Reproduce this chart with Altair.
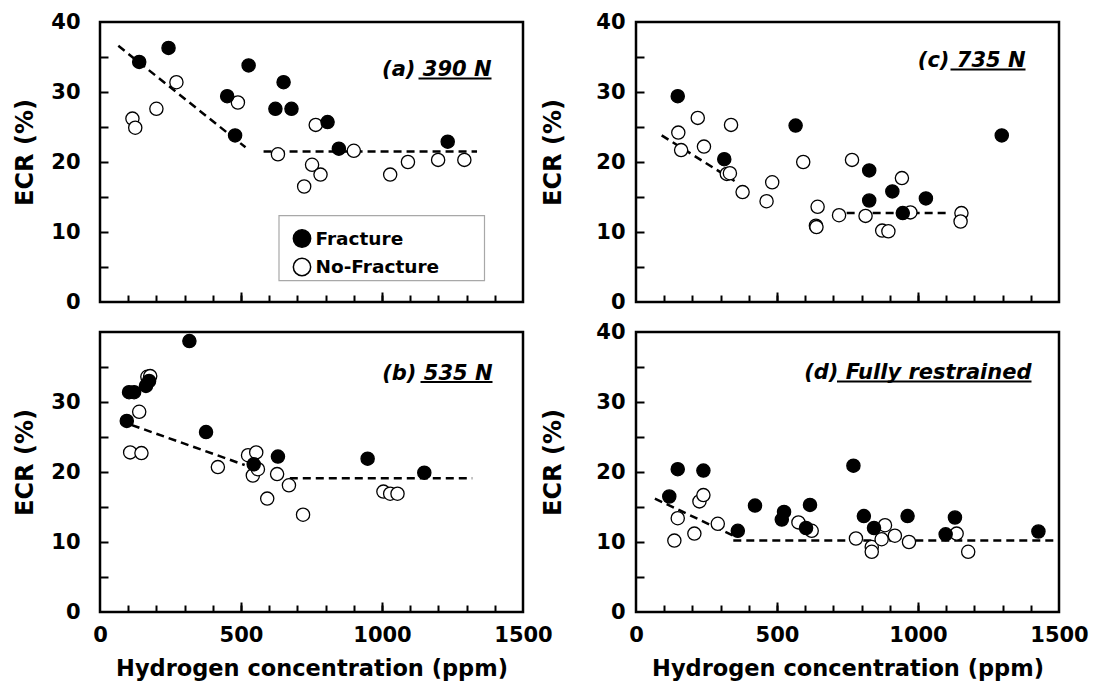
import altair as alt
import pandas as pd

FONT = "DejaVu Sans"
W, H = 423, 280

# ---------------- data ----------------
# (a) 390 N
a_frac_x = [139, 243, 451, 527, 479, 651, 622, 679, 807, 847, 1233]
a_frac_y = [34.3, 36.3, 29.4, 33.8, 23.8, 31.4, 27.6, 27.6, 25.7, 21.9, 22.9]
a_nof_x = [115, 125, 200, 271, 489, 631, 765, 752, 782, 724, 900, 1029, 1092, 1199, 1292]
a_nof_y = [26.2, 24.9, 27.6, 31.4, 28.5, 21.1, 25.3, 19.6, 18.2, 16.5, 21.6, 18.2, 20.0, 20.3, 20.3]
a_fit_x = [65, 516, 580, 1337]
a_fit_y = [36.6, 22.1, 21.5, 21.5]

# (b) 535 N
b_frac_x = [95, 103, 121, 163, 174, 317, 376, 545, 631, 949, 1150]
b_frac_y = [27.3, 31.4, 31.4, 32.3, 33.0, 38.7, 25.7, 21.1, 22.2, 21.9, 19.9]
b_nof_x = [107, 147, 139, 168, 178, 418, 525, 554, 542, 560, 628, 670, 593, 720, 1005, 1029, 1055]
b_nof_y = [22.8, 22.7, 28.6, 33.6, 33.7, 20.7, 22.4, 22.8, 19.5, 20.4, 19.7, 18.1, 16.2, 13.9, 17.2, 16.9, 16.9]
b_fit_x = [113, 513, 673, 1320]
b_fit_y = [26.7, 21.0, 19.1, 19.1]

# (c) 735 N
c_frac_x = [148, 566, 313, 827, 827, 909, 1028, 946, 1297]
c_frac_y = [29.4, 25.2, 20.4, 18.8, 14.5, 15.8, 14.8, 12.7, 23.8]
c_nof_x = [150, 160, 219, 241, 337, 322, 333, 378, 483, 463, 593, 644, 638, 640, 720, 766, 814, 943, 973, 873, 895, 1154, 1151]
c_nof_y = [24.2, 21.7, 26.3, 22.2, 25.3, 18.3, 18.4, 15.7, 17.1, 14.4, 20.0, 13.6, 10.9, 10.7, 12.4, 20.3, 12.3, 17.7, 12.8, 10.2, 10.1, 12.7, 11.5]
c_fit_x = [91, 357, 747, 1104]
c_fit_y = [23.8, 17.1, 12.7, 12.7]

# (d) Fully restrained
d_frac_x = [118, 148, 239, 361, 422, 525, 517, 603, 617, 771, 808, 844, 963, 1098, 1131, 1427]
d_frac_y = [16.5, 20.4, 20.2, 11.6, 15.2, 14.3, 13.2, 12.0, 15.3, 20.9, 13.7, 12.0, 13.7, 11.1, 13.5, 11.5]
d_nof_x = [136, 148, 225, 239, 207, 290, 576, 623, 780, 836, 836, 871, 883, 918, 968, 1137, 1178]
d_nof_y = [10.2, 13.4, 15.8, 16.7, 11.2, 12.6, 12.8, 11.6, 10.5, 9.3, 8.6, 10.4, 12.4, 10.9, 10.0, 11.2, 8.6]
d_fit_x = [67, 345, 345, 1486]
d_fit_y = [16.2, 10.9, 10.2, 10.2]

fit_seg = ["trend", "trend", "plateau", "plateau"]
types = ["Fracture", "No-Fracture"]

x_label_values = [0, 500, 1000, 1500]
x_minor_ticks = [100, 200, 300, 400, 500, 600, 700, 800, 900, 1000, 1100, 1200, 1300, 1400]
x_major_ticks = [500, 1000]
y_ticks = [5, 10, 15, 20, 25, 30, 35]

XSC = alt.Scale(domain=[0, 1500], nice=False, zero=False)
YSC = alt.Scale(domain=[0, 40], nice=False, zero=False)


def panel(fx, fy, nx, ny, fitx, fity, label, text_right, ul_left, base_y, ul_y,
          bottom_row, ylab_values, ylab_pad, ytitle_pad, with_legend):
    pts = pd.DataFrame({
        "x": nx + fx,
        "y": ny + fy,
        "type": ["No-Fracture"] * len(nx) + ["Fracture"] * len(fx),
    })
    fit = pd.DataFrame({"x": fitx, "y": fity, "seg": fit_seg})

    if bottom_row:
        xaxis = alt.Axis(orient="bottom", values=x_label_values, ticks=False, tickSize=0,
                         domain=False, grid=False, labelPadding=12, labelFontSize=21,
                         labelFlush=False, format="d",
                         title="Hydrogen concentration (ppm)", titleFontSize=22.5,
                         titlePadding=12)
    else:
        xaxis = None
    yaxis = alt.Axis(orient="left", values=ylab_values, ticks=False, tickSize=0,
                     domain=False, grid=False, labelPadding=ylab_pad, labelFontSize=21,
                     labelFlush=False, title="ECR (%)", titleFontSize=24,
                     titlePadding=ytitle_pad, titleY=130)

    if with_legend:
        leg = alt.Legend(orient="none", legendX=192.5, legendY=207, title=None,
                         labelFontSize=18.5, labelFont=FONT, labelFontWeight="bold",
                         symbolType="circle", symbolSize=300, symbolStrokeColor="black",
                         symbolStrokeWidth=1.5, rowPadding=3.5, labelOffset=4, padding=0)
    else:
        leg = None

    points = alt.Chart(pts).mark_point(
        shape="circle", filled=True, stroke="black", strokeWidth=1.3, size=175, opacity=1
    ).encode(
        x=alt.X("x:Q", scale=XSC, axis=xaxis),
        y=alt.Y("y:Q", scale=YSC, axis=yaxis),
        fill=alt.Fill("type:N", scale=alt.Scale(domain=types, range=["black", "white"]),
                      legend=leg),
    )

    lines = alt.Chart(fit).mark_line(
        color="black", strokeWidth=2.5, strokeDash=[8, 5]
    ).encode(
        x=alt.X("x:Q", scale=XSC,
                axis=alt.Axis(orient="top", offset=-H, values=x_minor_ticks, tickSize=7,
                              tickWidth=2, labels=False, domain=False, grid=False, title=None)),
        y=alt.Y("y:Q", scale=YSC,
                axis=alt.Axis(orient="right", offset=-W, values=y_ticks, tickSize=8,
                              tickWidth=2, labels=False, domain=False, grid=False, title=None)),
        detail="seg:N",
    )

    major = alt.Chart(fit).mark_point(opacity=0).encode(
        x=alt.X("x:Q", scale=XSC,
                axis=alt.Axis(orient="top", offset=-H, values=x_major_ticks, tickSize=10,
                              tickWidth=2, labels=False, domain=False, grid=False, title=None)),
        y=alt.Y("y:Q", scale=YSC, axis=None),
    )

    txt = alt.Chart(pd.DataFrame({"t": [label]})).mark_text(
        align="right", baseline="alphabetic", font=FONT, fontSize=21,
        fontWeight="bold", fontStyle="italic", color="black"
    ).encode(x=alt.value(text_right), y=alt.value(base_y), text="t:N")

    ul = alt.Chart(pd.DataFrame({"t": [0]})).mark_rule(color="black", strokeWidth=2).encode(
        x=alt.value(ul_left), x2=alt.value(text_right), y=alt.value(ul_y)
    )

    layers = []
    if with_legend:
        box = alt.Chart(pd.DataFrame({"t": [0]})).mark_rect(
            fill="white", stroke="#a8a8a8", strokeWidth=1.2
        ).encode(x=alt.value(179), x2=alt.value(384.5), y=alt.value(193.7), y2=alt.value(258.7))
        layers.append(box)
    layers += [major, lines, points, txt, ul]

    return alt.layer(*layers).resolve_axis(x="independent", y="independent").properties(
        width=W, height=H
    )


pa = panel(a_frac_x, a_frac_y, a_nof_x, a_nof_y, a_fit_x, a_fit_y, "(a) 390 N",
           391.5, 318.5, 54, 56.5, False, [0, 10, 20, 30, 40], 20, 13, True)
pc = panel(c_frac_x, c_frac_y, c_nof_x, c_nof_y, c_fit_x, c_fit_y, "(c) 735 N",
           389.5, 314.5, 45, 47.5, False, [0, 10, 20, 30, 40], 11, 30, False)
pb = panel(b_frac_x, b_frac_y, b_nof_x, b_nof_y, b_fit_x, b_fit_y, "(b) 535 N",
           392.5, 320.5, 47.5, 50, True, [0, 10, 20, 30], 20, 13, False)
pd_ = panel(d_frac_x, d_frac_y, d_nof_x, d_nof_y, d_fit_x, d_fit_y, "(d) Fully restrained",
            395.5, 201, 47, 49.5, True, [0, 10, 20, 30, 40], 11, 30, False)

chart = alt.concat(
    pa, pc, pb, pd_, columns=2, bounds="flush", spacing={"row": 30, "column": 113}
).resolve_scale(
    fill="independent"
).properties(
    padding={"left": 12, "top": 9, "right": 5, "bottom": 5},
    background="white",
).configure_view(
    stroke="black", strokeWidth=2.5
).configure_axis(
    labelFont=FONT, labelFontWeight="bold", labelColor="black",
    titleFont=FONT, titleFontWeight="bold", titleColor="black",
    tickColor="black"
)

chart.save("out.html", embed_options={"renderer": "svg", "actions": False})
